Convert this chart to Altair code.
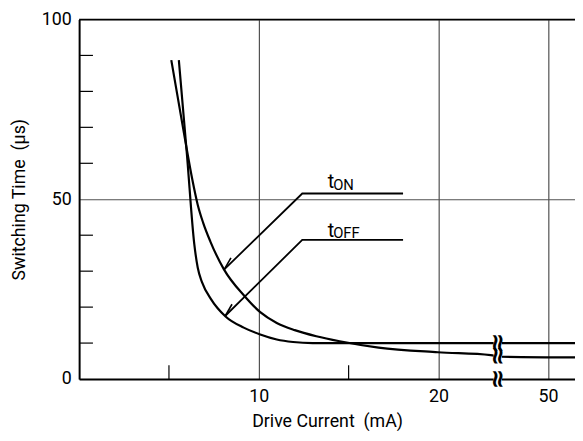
import altair as alt
import pandas as pd

# ---- data ----
ton_x = [5.13, 5.9, 6.3, 6.6, 6.9, 7.3, 8.06, 9.2, 10.08, 11.0, 12.0, 13.2, 14.5, 16.67, 19.97, 22.91, 23.46, 27.6]
ton_y = [88.7, 66.5, 55.5, 48.5, 43.5, 38.3, 30.5, 23.1, 18.6, 15.6, 13.6, 11.9, 10.5, 8.75, 7.45, 6.65, 6.2, 6.0]

toff_x = [5.55, 6.0, 6.41, 6.6, 6.85, 7.33, 8.15, 9.16, 10.08, 11.0, 11.91, 13.0, 27.6]
toff_y = [88.7, 62.5, 37.5, 31.0, 26.8, 22.3, 17.4, 14.3, 12.4, 11.0, 10.3, 10.0, 10.0]

x_tick_pos = [10, 20, 26.1]
x_tick_labels = ["10", "20", "50"]
x_minor = [5, 15]
y_tick_vals = [0, 50, 100]
y_minor = [10, 20, 30, 40, 60, 70, 80, 90]

# leader lines (x, y) for annotations
ton_leader_x = [18.03, 12.42, 8.08]
ton_leader_y = [51.6, 51.6, 30.5]
toff_leader_x = [18.03, 12.42, 8.14]
toff_leader_y = [38.7, 38.7, 17.6]
ton_barb_x = [8.08, 8.45]
ton_barb_y = [30.5, 33.7]
toff_barb_x = [8.14, 8.51]
toff_barb_y = [17.6, 20.8]

label_main = ["t", "t"]
label_main_x = [13.84, 13.84]
label_main_y = [53.0, 39.6]
label_sub = ["ON", "OFF"]
label_sub_x = [14.14, 14.14]
label_sub_y = [52.6, 39.1]

break_x = [23.3, 23.3, 23.3]
break_y = [10.0, 6.45, 0.0]

X_MAX = 27.6
W, H = 502, 364
FONT = "Roboto"

xs = alt.Scale(domain=[0, X_MAX], nice=False, zero=False)
ys = alt.Scale(domain=[0, 100], nice=False)

label_expr = " : ".join(
    [f"datum.value == {p} ? '{l}'" for p, l in zip(x_tick_pos, x_tick_labels)]
) + " : ''"

x_axis = alt.Axis(
    values=x_tick_pos, labelExpr=label_expr, grid=True, gridColor="#505050",
    gridWidth=1.2, tickSize=0, domainColor="black", domainWidth=2,
    labelFont=FONT, labelFontSize=18, labelColor="black", labelPadding=9,
    title="Drive Current\u00a0 (mA)", titleFont=FONT, titleFontSize=18,
    titleFontWeight="normal", titleColor="black", titlePadding=7,
)
y_axis = alt.Axis(
    values=y_tick_vals, grid=True, gridColor="#505050", gridWidth=1.2,
    tickSize=0, domainColor="black", domainWidth=2, labelFont=FONT,
    labelFontSize=18, labelColor="black", labelPadding=8,
    title="Switching Time\u00a0 (µs)", titleFont=FONT, titleFontSize=18,
    titleFontWeight="normal", titleColor="black", titlePadding=13,
)

def line_df(xv, yv):
    return pd.DataFrame({"x": xv, "y": yv, "i": list(range(len(xv)))})

ton = alt.Chart(line_df(ton_x, ton_y)).mark_line(
    color="black", strokeWidth=2.2, interpolate="monotone"
).encode(
    x=alt.X("x:Q", scale=xs, axis=x_axis),
    y=alt.Y("y:Q", scale=ys, axis=y_axis),
    order="i:Q",
)
toff = alt.Chart(line_df(toff_x, toff_y)).mark_line(
    color="black", strokeWidth=2.2, interpolate="monotone"
).encode(x=alt.X("x:Q", scale=xs), y=alt.Y("y:Q", scale=ys), order="i:Q")

def path(xv, yv, w=1.8):
    return alt.Chart(line_df(xv, yv)).mark_line(color="black", strokeWidth=w).encode(
        x=alt.X("x:Q", scale=xs), y=alt.Y("y:Q", scale=ys), order="i:Q"
    )

leaders = [
    path(ton_leader_x, ton_leader_y), path(toff_leader_x, toff_leader_y),
    path(ton_barb_x, ton_barb_y, 1.6), path(toff_barb_x, toff_barb_y, 1.6),
]

ymin_df = pd.DataFrame({"y": y_minor})
y_minor_ticks = alt.Chart(ymin_df).mark_rule(color="black", strokeWidth=1.2).encode(
    y=alt.Y("y:Q", scale=ys), x=alt.value(0), x2=alt.value(14)
)
xmin_df = pd.DataFrame({"x": x_minor})
x_minor_ticks = alt.Chart(xmin_df).mark_rule(color="black", strokeWidth=1.2).encode(
    x=alt.X("x:Q", scale=xs), y=alt.value(H), y2=alt.value(H - 14)
)

top_border = alt.Chart(pd.DataFrame({"y": [100]})).mark_rule(
    color="black", strokeWidth=1.6
).encode(y=alt.Y("y:Q", scale=ys))

main_lbl = alt.Chart(pd.DataFrame({"x": label_main_x, "y": label_main_y, "t": label_main})).mark_text(
    font=FONT, fontSize=20, align="left", baseline="alphabetic", color="black"
).encode(x=alt.X("x:Q", scale=xs), y=alt.Y("y:Q", scale=ys), text="t:N")
sub_lbl = alt.Chart(pd.DataFrame({"x": label_sub_x, "y": label_sub_y, "t": label_sub})).mark_text(
    font=FONT, fontSize=15, align="left", baseline="alphabetic", color="black"
).encode(x=alt.X("x:Q", scale=xs), y=alt.Y("y:Q", scale=ys), text="t:N")

breaks_df = pd.DataFrame({"x": break_x, "y": break_y})
break_gap = alt.Chart(breaks_df).mark_point(
    shape="square", size=70, filled=True, color="white", opacity=1
).encode(x=alt.X("x:Q", scale=xs), y=alt.Y("y:Q", scale=ys))
breaks = alt.Chart(breaks_df).mark_text(
    text="\u2248", font="DejaVu Sans", fontSize=25, fontWeight="bold", angle=90,
    align="center", baseline="middle", color="black"
).encode(x=alt.X("x:Q", scale=xs), y=alt.Y("y:Q", scale=ys))

chart = alt.layer(
    ton, toff, y_minor_ticks, x_minor_ticks, top_border, *leaders,
    main_lbl, sub_lbl, break_gap, breaks,
).properties(
    width=W, height=H,
    autosize=alt.AutoSizeParams(type="none"),
    padding={"left": 72, "top": 9, "right": 0, "bottom": 50},
).configure_view(stroke=None).configure(background="white")

chart.save("out.html", embed_options={"renderer": "svg", "actions": False})
